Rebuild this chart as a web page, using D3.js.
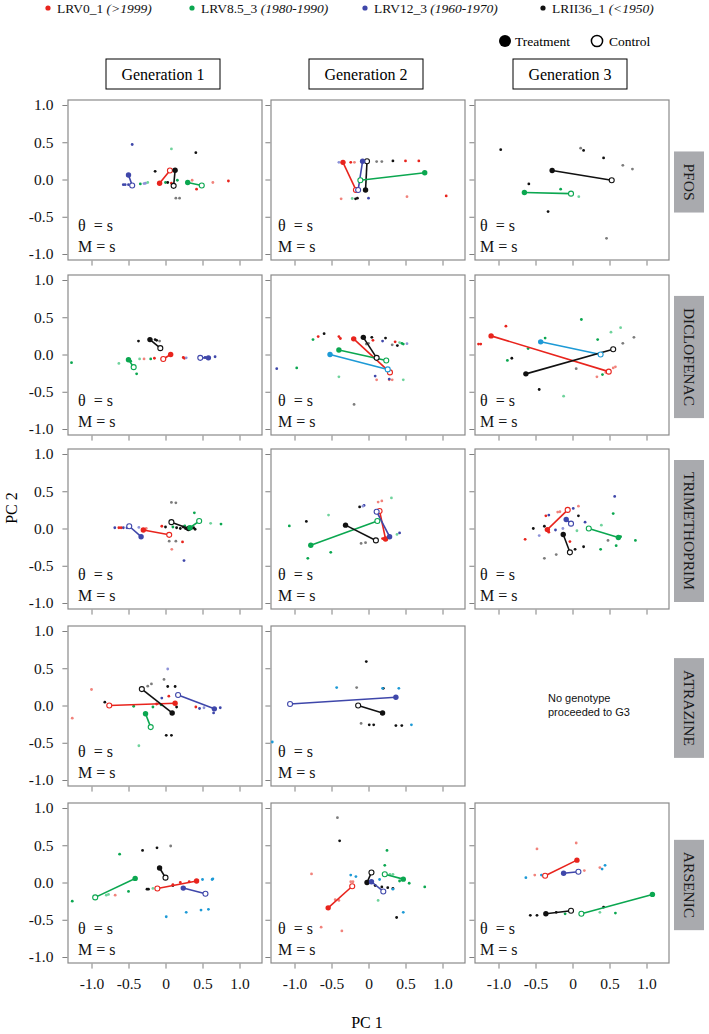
<!DOCTYPE html>
<html><head><meta charset="utf-8">
<script src="https://cdn.jsdelivr.net/npm/d3@7"></script>
<style>body{margin:0;background:#fff}</style>
</head><body><svg id="c" width="709" height="1034"></svg>
<script>
const compounds = ["PFOS","DICLOFENAC","TRIMETHOPRIM","ATRAZINE","ARSENIC"];
const generations = ["Generation 1","Generation 2","Generation 3"];
const genotypeNames = ["LRV0_1","LRV8.5_3","LRV12_3","LRII36_1"];
const genotypeYears = ["(>1999)","(1980-1990)","(1960-1970)","(<1950)"];
const genotypeCodes = ["R","G","B","K"];
const groupLabels = ["Treatment","Control"];
const xTicks = [-1,-0.5,0,0.5,1];
const xTickLabels = ["-1.0","-0.5","0","0.5","1.0"];
const yTicks = [-1,-0.5,0,0.5,1];
const yTickLabels = ["-1.0","-0.5","0.0","0.5","1.0"];
const statLines = ["\u03b8  = s","M = s"];
const missingPanelText = ["No genotype","proceeded to G3"];
const axisTitles = ["PC 1","PC 2"];

// centroids: [generation, genotype, treatment x, treatment y, control x, control y]
const pfosCentroids = [
  [1,"B",-0.50,0.06,-0.45,-0.08],[1,"G",0.30,-0.04,0.49,-0.08],[1,"R",-0.08,-0.05,0.06,0.12],[1,"K",0.13,0.125,0.11,-0.085],
  [2,"R",-0.345,0.23,-0.17,-0.14],[2,"B",-0.08,0.245,-0.14,-0.14],[2,"K",-0.04,-0.14,-0.02,0.245],[2,"G",0.76,0.09,-0.11,-0.01],
  [3,"K",-0.275,0.12,0.53,-0.01],[3,"G",-0.65,-0.175,-0.02,-0.19]
];
const diclofenacCentroids = [
  [1,"K",-0.21,0.20,-0.07,0.085],[1,"R",0.07,0.0,-0.03,-0.06],[1,"B",0.58,-0.045,0.47,-0.045],[1,"G",-0.50,-0.07,-0.43,-0.17],
  [2,"K",-0.07,0.23,0.11,-0.045],[2,"R",-0.20,0.21,0.29,-0.24],[2,"G",-0.40,0.06,0.24,-0.08],[2,"C",-0.52,0.0,0.26,-0.20],
  [3,"R",-1.10,0.25,0.49,-0.23],[3,"C",-0.43,0.17,0.38,0.0],[3,"K",-0.63,-0.26,0.55,0.07]
];
const trimethoprimCentroids = [
  [1,"B",-0.33,-0.11,-0.49,0.03],[1,"R",-0.30,-0.02,0.05,-0.085],[1,"K",0.31,0.0,0.08,0.085],[1,"G",0.33,0.01,0.455,0.10],
  [2,"G",-0.78,-0.225,0.12,0.10],[2,"K",-0.31,0.045,0.10,-0.16],[2,"R",0.23,-0.14,0.15,0.235],[2,"B",0.285,-0.11,0.11,0.225],
  [3,"R",-0.34,-0.015,-0.065,0.25],[3,"B",-0.085,0.12,-0.02,0.065],[3,"K",-0.125,-0.08,-0.035,-0.32],[3,"G",0.62,-0.12,0.22,0.0]
];
const atrazineCentroids = [
  [1,"R",0.13,0.03,-0.76,0.0],[1,"K",0.09,-0.10,-0.32,0.22],[1,"G",-0.27,-0.11,-0.20,-0.29],[1,"B",0.66,-0.045,0.17,0.14],
  [2,"B",0.37,0.11,-1.06,0.02],[2,"K",0.19,-0.10,-0.14,0.0]
];
const arsenicCentroids = [
  [1,"G",-0.41,0.055,-0.95,-0.20],[1,"K",-0.08,0.195,0.0,0.065],[1,"R",0.42,0.02,-0.11,-0.08],[1,"B",0.24,-0.075,0.54,-0.15],
  [2,"R",-0.545,-0.34,-0.22,-0.05],[2,"K",-0.02,0.0,0.04,0.135],[2,"B",0.04,0.01,0.20,-0.12],[2,"G",0.47,0.045,0.22,0.11],
  [3,"R",0.06,0.30,-0.37,0.09],[3,"B",-0.12,0.125,0.08,0.145],[3,"K",-0.36,-0.42,-0.02,-0.38],[3,"G",1.08,-0.16,0.12,-0.42]
];

// replicates: [generation, genotype, group (t = treatment, c = control), x, y]
const pfosReplicates = [
  [1,"B","t",-0.45,0.47],[1,"B","t",-0.57,-0.07],[1,"B","t",-0.545,-0.07],[1,"B","t",-0.50,-0.07],[1,"B","c",-0.27,-0.05],[1,"B","c",-0.29,-0.055],
  [1,"G","t",-0.34,-0.06],[1,"G","t",0.0,-0.04],[1,"G","t",0.16,-0.01],[1,"G","c",-0.24,-0.04],[1,"G","c",0.08,0.41],
  [1,"R","t",0.08,-0.05],[1,"R","t",0.42,-0.13],[1,"R","t",0.85,-0.02],[1,"R","c",0.36,-0.01],[1,"R","c",0.64,-0.04],
  [1,"K","t",-0.14,0.11],[1,"K","t",0.41,0.36],[1,"K","t",0.03,-0.04],[1,"K","c",0.14,-0.25],[1,"K","c",0.19,-0.25],
  [2,"R","t",-0.24,0.23],[2,"R","t",0.50,0.25],[2,"R","t",0.68,0.25],[2,"R","t",1.05,-0.22],[2,"R","c",-0.37,-0.26],[2,"R","c",-0.19,0.23],[2,"R","c",0.52,-0.23],
  [2,"B","t",0.0,-0.25],[2,"B","c",-0.40,0.23],
  [2,"K","t",0.33,0.25],[2,"K","t",-0.175,-0.26],[2,"K","t",-0.15,-0.25],[2,"K","c",0.11,0.24],[2,"K","c",0.18,0.24],
  [2,"G","c",-0.22,-0.255],
  [3,"K","t",-0.97,0.40],[3,"K","t",-0.59,-0.06],[3,"K","t",-0.33,-0.43],[3,"K","t",0.15,0.39],[3,"K","t",0.42,0.29],
  [3,"K","c",0.11,0.42],[3,"K","c",0.68,0.19],[3,"K","c",0.81,0.14],[3,"K","c",0.46,-0.79],
  [3,"G","t",-0.16,-0.13],[3,"G","c",0.085,-0.23]
];
const diclofenacReplicates = [
  [1,"K","t",-0.365,0.18],[1,"K","t",-0.14,0.20],[1,"K","t",-0.12,0.19],[1,"K","c",-0.08,0.18],
  [1,"R","t",-0.15,-0.05],[1,"R","t",0.24,-0.04],[1,"R","t",0.255,-0.05],[1,"R","c",-0.29,-0.06],[1,"R","c",-0.05,-0.06],
  [1,"B","t",0.67,-0.03],[1,"B","t",0.535,-0.04],[1,"B","c",0.28,-0.045],
  [1,"G","t",-1.27,-0.11],[1,"G","t",-0.39,-0.26],[1,"G","t",-0.20,-0.06],[1,"G","t",-0.47,-0.09],[1,"G","c",-0.63,-0.12],[1,"G","c",-0.35,-0.06],
  [2,"K","t",-0.60,0.28],[2,"K","t",0.045,0.23],[2,"K","t",0.23,0.22],[2,"K","t",0.39,0.12],
  [2,"K","c",-0.03,0.14],[2,"K","c",0.0,0.15],[2,"K","c",0.32,0.13],[2,"K","c",-0.195,-0.67],
  [2,"R","t",-0.68,0.24],[2,"R","t",-0.40,0.24],[2,"R","t",-0.38,0.215],[2,"R","t",0.06,0.19],[2,"R","t",0.36,0.17],
  [2,"R","c",0.11,-0.34],[2,"R","c",0.28,-0.34],[2,"R","c",0.32,-0.34],
  [2,"G","t",-0.75,0.20],[2,"G","t",-0.97,-0.18],[2,"G","t",0.45,0.15],[2,"G","t",0.47,0.14],[2,"G","c",-0.40,-0.30],[2,"G","c",0.42,0.16],[2,"G","c",0.47,-0.34],
  [2,"B","t",-1.24,-0.19],[2,"B","t",0.19,0.18],[2,"B","t",0.09,-0.29],[2,"B","t",0.28,-0.33],[2,"B","c",0.52,0.145],
  [3,"R","t",-0.90,0.38],[3,"R","t",-1.27,0.14],[3,"R","t",-1.24,0.14],
  [3,"R","c",0.33,-0.30],[3,"R","c",0.45,-0.24],[3,"R","c",0.55,-0.18],[3,"R","c",0.58,-0.165],
  [3,"K","t",-0.82,-0.05],[3,"K","t",-0.45,-0.47],[3,"K","c",0.05,-0.19],[3,"K","c",0.68,0.15],[3,"K","c",0.83,0.23],
  [3,"G","t",0.12,0.47],[3,"G","t",-0.88,-0.08],[3,"G","t",-0.60,0.08],[3,"G","t",-0.37,0.22],[3,"G","t",0.34,0.20],[3,"G","t",0.405,-0.27],
  [3,"G","c",0.52,0.30],[3,"G","c",0.65,0.36],[3,"G","c",-0.12,-0.56]
];
const trimethoprimReplicates = [
  [1,"B","t",-0.685,0.01],[1,"B","t",-0.57,0.01],[1,"B","t",-0.52,0.01],[1,"B","t",0.25,-0.43],[1,"B","c",-0.36,0.015],
  [1,"R","t",-0.63,0.01],[1,"R","t",-0.60,0.01],[1,"R","t",-0.05,0.03],[1,"R","t",0.23,-0.18],[1,"R","c",-0.26,0.0],[1,"R","c",0.085,-0.28],
  [1,"K","t",0.15,0.01],[1,"K","t",0.20,0.0],[1,"K","t",0.24,0.02],[1,"K","t",0.27,0.0],[1,"K","t",0.35,0.0],[1,"K","t",0.38,0.01],[1,"K","t",0.40,-0.01],[1,"K","t",0.0,0.02],
  [1,"K","c",0.08,0.35],[1,"K","c",0.14,0.345],[1,"K","c",0.05,-0.17],[1,"K","c",0.14,-0.17],
  [1,"G","t",0.39,0.21],[1,"G","t",0.75,0.06],[1,"G","t",0.10,0.02],[1,"G","t",0.26,0.035],[1,"G","c",0.61,0.07],
  [2,"G","t",-1.07,0.035],[2,"G","t",-0.82,-0.40],[2,"G","t",-0.51,-0.32],[2,"G","c",-0.54,0.18],[2,"G","c",0.31,0.41],[2,"G","c",0.385,-0.08],
  [2,"K","t",-0.84,0.095],[2,"K","t",-0.12,0.29],[2,"K","c",-0.10,-0.20],[2,"K","c",-0.04,-0.19],
  [2,"R","t",0.19,-0.135],[2,"R","c",0.13,0.355],[2,"R","c",0.18,0.37],
  [2,"B","t",-0.06,0.31],[2,"B","t",0.42,-0.06],[2,"B","t",0.25,-0.13],[2,"B","c",-0.075,0.30],
  [3,"R","t",-0.64,-0.145],[3,"R","t",-0.36,0.17],[3,"R","t",-0.035,-0.175],[3,"R","t",-0.32,-0.05],
  [3,"R","c",-0.20,0.22],[3,"R","c",-0.17,0.225],[3,"R","c",0.08,0.30],
  [3,"B","t",0.57,0.43],[3,"B","t",-0.32,0.18],[3,"B","t",0.01,0.27],[3,"B","t",0.17,0.085],[3,"B","t",-0.23,-0.02],
  [3,"B","c",-0.45,-0.095],[3,"B","c",-0.13,0.0],
  [3,"K","t",-0.53,0.0],[3,"K","t",-0.38,0.03],[3,"K","t",0.08,0.17],[3,"K","t",0.035,-0.28],[3,"K","t",0.15,-0.245],
  [3,"K","c",-0.38,-0.40],[3,"K","c",-0.22,-0.35],[3,"K","c",0.48,-0.16],
  [3,"G","t",0.55,0.20],[3,"G","t",0.65,-0.11],[3,"G","t",0.85,-0.16],[3,"G","t",0.38,-0.28],[3,"G","t",0.59,-0.23],
  [3,"G","c",0.39,0.045],[3,"G","c",0.06,-0.03]
];
const atrazineReplicates = [
  [1,"R","t",0.045,0.125],[1,"R","t",-0.12,0.02],[1,"R","t",0.41,-0.02],[1,"R","c",-1.0,0.215],[1,"R","c",-1.26,-0.17],
  [1,"K","t",-0.82,0.045],[1,"K","t",0.03,0.255],[1,"K","t",0.13,0.255],[1,"K","t",0.01,-0.40],[1,"K","t",0.08,-0.40],[1,"K","t",0.15,-0.02],
  [1,"K","c",-0.24,0.26],[1,"K","c",-0.19,0.29],[1,"K","c",-0.02,0.35],
  [1,"G","t",-0.43,-0.01],[1,"G","t",-0.17,-0.02],[1,"G","t",-0.06,0.01],[1,"G","c",-0.36,-0.54],
  [1,"B","t",0.46,-0.04],[1,"B","t",0.74,-0.03],[1,"B","t",0.65,-0.10],[1,"B","t",-0.05,0.10],[1,"B","c",0.03,0.49],[1,"B","c",0.52,-0.03],
  [2,"K","t",-0.03,0.59],[2,"K","t",0.20,0.23],[2,"K","t",0.01,-0.26],[2,"K","t",0.07,-0.26],[2,"K","t",0.37,-0.27],[2,"K","t",0.45,-0.27],
  [2,"K","c",-0.16,0.24],[2,"K","c",-0.10,-0.24],
  [2,"C","t",-0.43,0.24],[2,"C","t",0.41,0.23],[2,"C","t",0.58,-0.26],[2,"C","t",-1.30,-0.49],[2,"C","t",0.19,0.23]
];
const arsenicReplicates = [
  [1,"G","t",-1.26,-0.25],[1,"G","t",-0.62,0.38],[1,"G","t",-0.50,-0.12],[1,"G","c",-0.80,-0.17],[1,"G","c",-0.77,-0.16],[1,"G","c",-0.17,-0.08],
  [1,"K","t",-0.31,0.43],[1,"K","t",-0.115,0.465],[1,"K","t",-0.25,-0.09],[1,"K","t",-0.23,-0.09],[1,"K","t",0.10,-0.04],[1,"K","c",0.07,0.49],
  [1,"R","t",0.32,0.01],[1,"R","t",0.10,-0.03],[1,"R","t",0.20,0.0],[1,"R","c",-0.68,-0.17],
  [1,"C","t",0.50,0.04],[1,"C","t",0.63,0.04],[1,"C","t",0.64,0.05],[1,"C","t",0.01,-0.46],[1,"C","t",0.28,-0.40],[1,"C","t",0.48,-0.37],[1,"C","t",0.58,-0.36],
  [2,"R","c",-0.77,0.115],[2,"R","c",-0.45,-0.23],[2,"R","c",-0.40,-0.24],[2,"R","c",-0.36,-0.65],[2,"R","c",-0.64,-0.60],[2,"R","c",-0.24,0.01],[2,"R","c",-0.21,0.01],
  [2,"K","t",-0.39,0.56],[2,"K","t",0.38,-0.47],[2,"K","t",0.33,-0.08],[2,"K","t",0.09,-0.04],[2,"K","t",0.18,-0.06],[2,"K","t",0.26,-0.07],[2,"K","c",-0.42,0.87],
  [2,"G","t",0.25,0.43],[2,"G","t",0.22,0.23],[2,"G","t",0.55,-0.01],[2,"G","t",0.76,-0.06],[2,"G","t",0.42,0.02],
  [2,"G","c",0.33,0.11],[2,"G","c",0.29,0.11],[2,"G","c",0.13,-0.24],
  [2,"C","t",-0.24,0.10],[2,"C","t",-0.17,0.08],[2,"C","t",0.15,0.04],[2,"C","t",0.33,-0.09],[2,"C","t",0.47,-0.40],
  [3,"R","c",-0.48,0.45],[3,"R","c",0.05,0.53],[3,"R","c",0.16,0.16],[3,"R","c",0.37,0.20],[3,"R","c",-0.51,0.10],
  [3,"C","t",-0.63,0.065],[3,"C","t",0.40,0.18],[3,"C","t",0.44,0.23],[3,"C","t",-0.42,0.10],
  [3,"K","t",-0.57,-0.44],[3,"K","t",-0.48,-0.44],[3,"K","t",-0.22,-0.40],[3,"K","t",0.42,-0.33],
  [3,"G","t",-0.10,-0.42],[3,"G","t",0.58,-0.41],[3,"G","c",0.37,-0.40]
];

const centroidSets = [pfosCentroids, diclofenacCentroids, trimethoprimCentroids, atrazineCentroids, arsenicCentroids];
const replicateSets = [pfosReplicates, diclofenacReplicates, trimethoprimReplicates, atrazineReplicates, arsenicReplicates];

// ---------- styles / layout ----------
const colors = {R:"#e8241d", G:"#0ba750", B:"#3f47aa", K:"#111111", C:"#1d9ad6"};
const lightColors = {R:"#f1837c", G:"#6fd39c", B:"#8d92d8", K:"#7c7c7c", C:"#7cc6ee"};
const SERIF = "'Liberation Serif','Times New Roman',serif";
const SANS = "'Liberation Sans',Arial,sans-serif";
const colLeft = [68, 271, 475];
const panelW = 194, panelH = 160;
const rowTop = [100, 275, 449, 626, 803];
const statDx = [10, 7, 5];

const svg = d3.select("#c");

// top genotype legend
const legX = [48, 192, 365, 543];
genotypeNames.forEach((n, i) => {
  svg.append("circle").attr("cx", legX[i]).attr("cy", 8).attr("r", 2.6).attr("fill", colors[genotypeCodes[i]]);
  const t = svg.append("text").attr("x", legX[i] + 9).attr("y", 12.5)
    .attr("font-family", SERIF).attr("font-size", 13.5).attr("fill", "#111");
  t.append("tspan").text(n + " ");
  t.append("tspan").attr("font-style", "italic").text(genotypeYears[i]);
});

// treatment / control legend
svg.append("circle").attr("cx", 505).attr("cy", 41).attr("r", 6).attr("fill", "#000");
svg.append("text").attr("x", 515).attr("y", 45.5).attr("font-family", SERIF).attr("font-size", 13.5).text(groupLabels[0]);
svg.append("circle").attr("cx", 597).attr("cy", 41).attr("r", 5.6).attr("fill", "#fff").attr("stroke", "#000").attr("stroke-width", 1.5);
svg.append("text").attr("x", 609).attr("y", 45.5).attr("font-family", SERIF).attr("font-size", 13.5).text(groupLabels[1]);

// generation headers
generations.forEach((g, i) => {
  const cx = colLeft[i] + panelW / 2 - 2;
  svg.append("rect").attr("x", cx - 57).attr("y", 59).attr("width", 114).attr("height", 30)
    .attr("fill", "#fff").attr("stroke", "#000").attr("stroke-width", 1);
  svg.append("text").attr("x", cx).attr("y", 79.5).attr("text-anchor", "middle")
    .attr("font-family", SERIF).attr("font-size", 16).text(g);
});

// panels
compounds.forEach((comp, ri) => {
  const top = rowTop[ri];
  generations.forEach((gname, gi) => {
    const left = colLeft[gi];
    if (ri === 3 && gi === 2) {
      missingPanelText.forEach((line, li) => {
        svg.append("text").attr("x", 548).attr("y", 702 + li * 14)
          .attr("font-family", SANS).attr("font-size", 11).attr("fill", "#111").text(line);
      });
      return;
    }
    const x = d3.scaleLinear().domain([-1, 1]).range([left + 23.5, left + 171.5]);
    const y = d3.scaleLinear().domain([-1, 1]).range([top + 154, top + 5]);
    const g = svg.append("g");

    g.append("rect").attr("x", left).attr("y", top).attr("width", panelW).attr("height", panelH)
      .attr("fill", "#fff").attr("stroke", "#8a8a8a").attr("stroke-width", 1.2);

    const ya = g.append("g").attr("transform", `translate(${left - 0.6},0)`)
      .call(d3.axisLeft(y).tickValues(yTicks).tickSize(5).tickPadding(9)
        .tickFormat((d, i) => gi === 0 ? yTickLabels[i] : ""));
    const xa = g.append("g").attr("transform", `translate(0,${top + panelH + 0.6})`)
      .call(d3.axisBottom(x).tickValues(xTicks).tickSize(5).tickPadding(9)
        .tickFormat((d, i) => ri === 4 ? xTickLabels[i] : ""));
    [ya, xa].forEach(a => {
      a.select(".domain").remove();
      a.selectAll(".tick line").attr("stroke", "#808080").attr("stroke-width", 1);
      a.selectAll(".tick text").attr("font-family", SERIF).attr("font-size", 15.5).attr("fill", "#111");
    });

    const reps = replicateSets[ri].filter(d => d[0] === gi + 1);
    g.selectAll("circle.rep").data(reps).join("circle").attr("class", "rep")
      .attr("cx", d => x(d[3])).attr("cy", d => y(d[4])).attr("r", 1.4)
      .attr("fill", d => d[2] === "t" ? colors[d[1]] : lightColors[d[1]]);

    const cents = centroidSets[ri].filter(d => d[0] === gi + 1);
    g.selectAll("line.seg").data(cents).join("line").attr("class", "seg")
      .attr("x1", d => x(d[2])).attr("y1", d => y(d[3]))
      .attr("x2", d => x(d[4])).attr("y2", d => y(d[5]))
      .attr("stroke", d => colors[d[1]]).attr("stroke-width", 1.6);
    g.selectAll("circle.ctl").data(cents).join("circle").attr("class", "ctl")
      .attr("cx", d => x(d[4])).attr("cy", d => y(d[5])).attr("r", 2.5)
      .attr("fill", "#fff").attr("stroke", d => colors[d[1]]).attr("stroke-width", 1.1);
    g.selectAll("circle.trt").data(cents).join("circle").attr("class", "trt")
      .attr("cx", d => x(d[2])).attr("cy", d => y(d[3])).attr("r", 2.7)
      .attr("fill", d => colors[d[1]]);

    statLines.forEach((s, si) => {
      g.append("text").attr("x", left + statDx[gi]).attr("y", top + panelH - 29 + si * 21)
        .attr("font-family", SERIF).attr("font-size", 16).attr("fill", "#111")
        .attr("xml:space", "preserve").style("white-space", "pre").text(s);
    });
  });

  // strip label
  const cy = top + panelH / 2 + 2;
  const sg = svg.append("g");
  const txt = sg.append("text").attr("transform", `translate(689,${cy}) rotate(90)`)
    .attr("text-anchor", "middle").attr("dominant-baseline", "central")
    .attr("font-family", SERIF).attr("font-size", 15.5).attr("fill", "#1a1a1a").text(comp);
  const len = txt.node().getComputedTextLength() + 24;
  sg.insert("rect", "text").attr("x", 674).attr("y", cy - len / 2).attr("width", 30).attr("height", len)
    .attr("fill", "#a9aaae");
});

// axis titles
svg.append("text").attr("x", 367).attr("y", 1028).attr("text-anchor", "middle")
  .attr("font-family", SERIF).attr("font-size", 16).text(axisTitles[0]);
svg.append("text").attr("transform", "translate(17,508) rotate(-90)").attr("text-anchor", "middle")
  .attr("font-family", SERIF).attr("font-size", 16).text(axisTitles[1]);
</script>
</body></html>
